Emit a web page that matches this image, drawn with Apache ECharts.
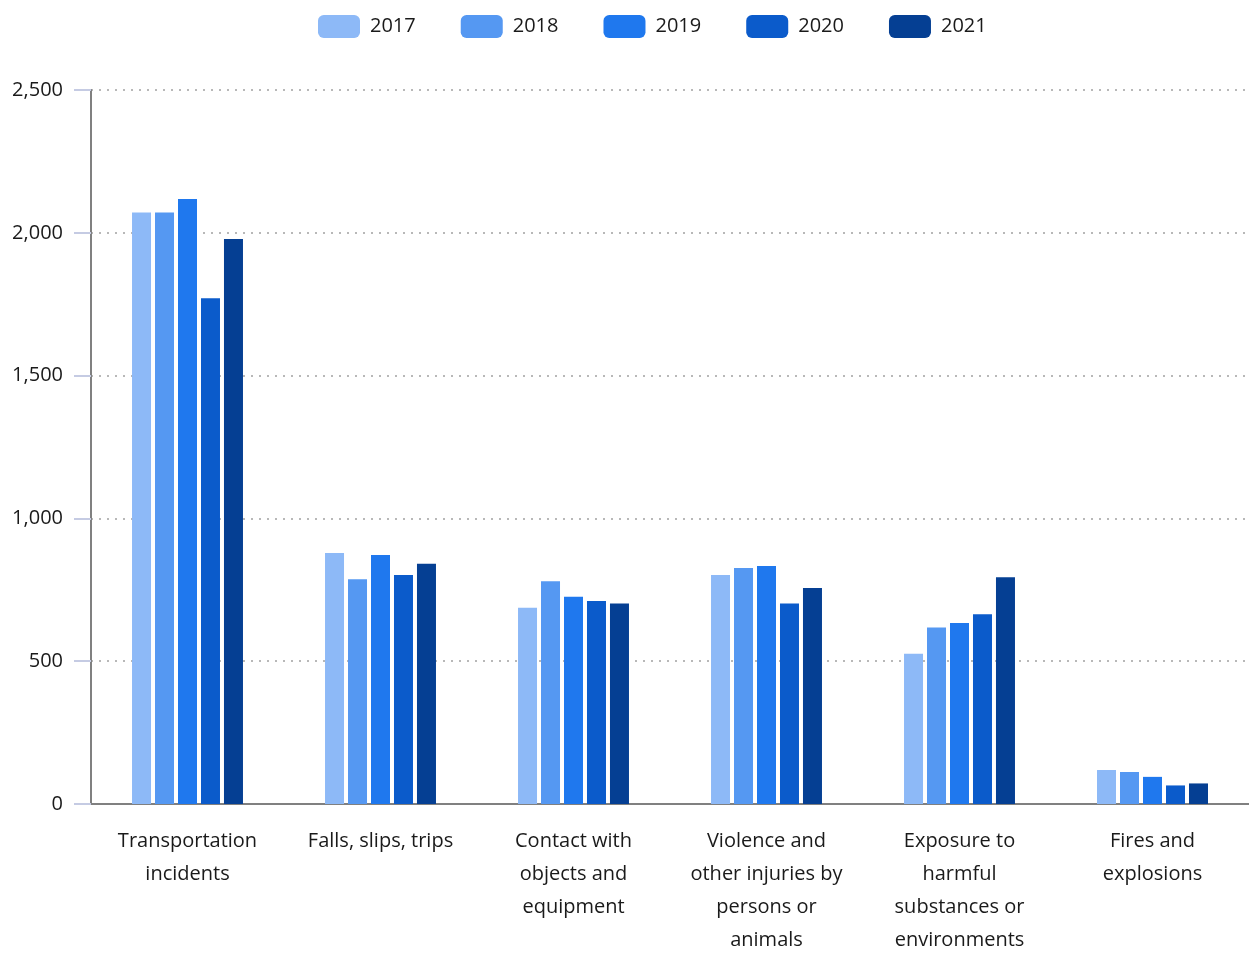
<!DOCTYPE html>
<html>
<head>
<meta charset="utf-8">
<script src="https://cdn.jsdelivr.net/npm/echarts@6/dist/echarts.min.js"></script>
<style>
  html, body { margin: 0; padding: 0; background: #ffffff; }
  #chart { width: 1249px; height: 957px; }
</style>
</head>
<body>
<div id="chart"></div>
<script>
// Fatal occupational injuries by event, 2017–2021
const categories = [
  'Transportation\nincidents',
  'Falls, slips, trips',
  'Contact with\nobjects and\nequipment',
  'Violence and\nother injuries by\npersons or\nanimals',
  'Exposure to\nharmful\nsubstances or\nenvironments',
  'Fires and\nexplosions'
];
const years = ['2017', '2018', '2019', '2020', '2021'];
const values2017 = [2071, 879, 687, 802, 526, 119];
const values2018 = [2071, 787, 780, 826, 618, 112];
const values2019 = [2118, 872, 726, 833, 634, 95];
const values2020 = [1771, 802, 711, 702, 664, 65];
const values2021 = [1978, 841, 702, 756, 794, 72];
const yTicks = [0, 500, 1000, 1500, 2000, 2500];

const seriesValues = [values2017, values2018, values2019, values2020, values2021];
const palette = ['#8DB9F7', '#5598F2', '#1F78EE', '#0B5BCB', '#053F93'];
const textFont = '"Open Sans", "Noto Sans", sans-serif';

const chart = echarts.init(document.getElementById('chart'), null, { renderer: 'canvas' });

chart.setOption({
  animation: false,
  color: palette,
  textStyle: { fontFamily: textFont },
  legend: {
    top: 10,
    left: 313,
    itemWidth: 42,
    itemHeight: 23,
    itemGap: 45,
    icon: 'roundRect',
    textStyle: { fontSize: 20, color: '#1a1a1a', fontFamily: textFont, padding: [0, 0, 0, 5] },
    data: years
  },
  grid: { left: 91, right: 0, top: 90, bottom: 150, containLabel: false },
  xAxis: {
    type: 'category',
    data: categories,
    axisLine: { lineStyle: { color: '#808080', width: 2 } },
    axisTick: { show: false },
    axisLabel: {
      interval: 0,
      fontSize: 20,
      lineHeight: 33,
      color: '#1a1a1a',
      margin: 21,
      fontFamily: textFont
    }
  },
  yAxis: {
    type: 'value',
    min: yTicks[0],
    max: yTicks[yTicks.length - 1],
    interval: 500,
    axisLine: { show: true, lineStyle: { color: '#808080', width: 2 } },
    axisTick: { show: true, length: 17, lineStyle: { color: '#c5cbe3', width: 2 } },
    axisLabel: {
      fontSize: 20,
      color: '#1a1a1a',
      margin: 28,
      fontFamily: textFont,
      formatter: v => v.toLocaleString('en-US')
    },
    splitLine: {
      show: true,
      lineStyle: { color: '#b8b8b8', type: [2, 6], width: 2 }
    }
  },
  series: years.map((y, i) => ({
    name: y,
    type: 'bar',
    data: seriesValues[i],
    barWidth: 19,
    barGap: '21%',
    itemStyle: { color: palette[i] }
  }))
});
</script>
</body>
</html>
